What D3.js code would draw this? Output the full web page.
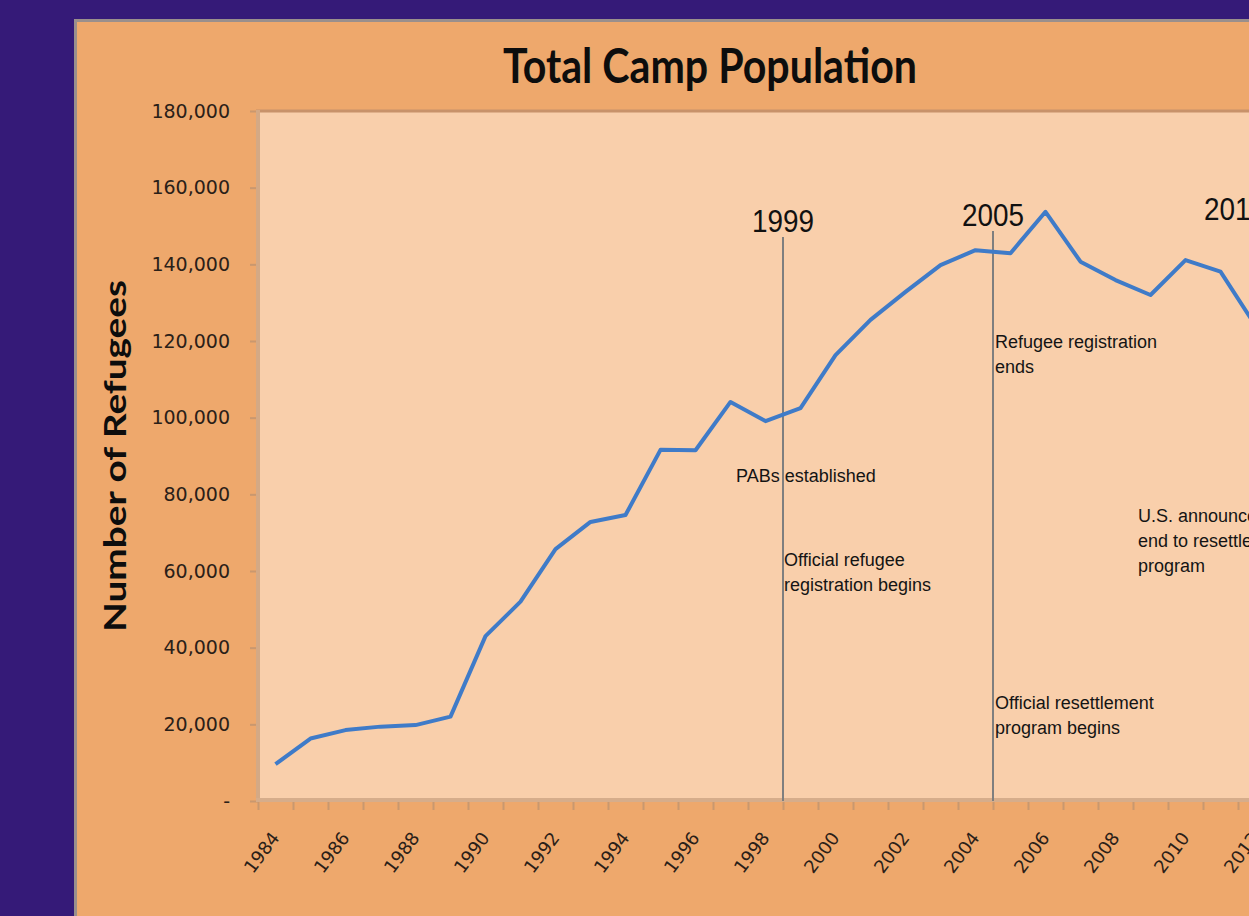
<!DOCTYPE html>
<html>
<head>
<meta charset="utf-8">
<script src="https://cdn.jsdelivr.net/npm/d3@7"></script>
<style>
html, body { margin: 0; padding: 0; background: #351a78; overflow: hidden; }
svg { display: block; }
</style>
</head>
<body>
<div id="chart"></div>
<script>
// data
var years = [1984, 1985, 1986, 1987, 1988, 1989, 1990, 1991, 1992, 1993, 1994, 1995, 1996, 1997,
    1998, 1999, 2000, 2001, 2002, 2003, 2004, 2005, 2006, 2007, 2008, 2009, 2010, 2011, 2012];
var population = [9600, 16300, 18500, 19400, 19800, 22000, 43000, 52000, 65700, 72800, 74600, 91600,
    91500, 104100, 99100, 102500, 116300, 125500, 132800, 139800, 143700, 142900, 153700, 140700,
    135900, 132000, 141100, 138100, 124000];
var yTicks = [0, 20000, 40000, 60000, 80000, 100000, 120000, 140000, 160000, 180000];
var xLabelYears = [1984, 1986, 1988, 1990, 1992, 1994, 1996, 1998, 2000, 2002, 2004, 2006, 2008, 2010, 2012];
var markerYears = [1999, 2005, 2013];
var markerLabels = ['1999', '2005', '2013'];
var noteTexts = [
    ['PABs established'],
    ['Official refugee', 'registration begins'],
    ['Refugee registration', 'ends'],
    ['Official resettlement', 'program begins'],
    ['U.S. announces', 'end to resettlement', 'program']
];

var W = 1249, H = 916;
var plot = { left: 258, top: 111, bottom: 801, step: 35 };

var svg = d3.select('#chart').append('svg').attr('width', W).attr('height', H);

// panel
svg.append('rect').attr('x', 75.5).attr('y', 20.5).attr('width', W).attr('height', H)
    .attr('fill', '#eea86c').attr('stroke', '#9a8f8c').attr('stroke-width', 3);

var xEdge = d3.scaleLinear().domain([1984, 2014])
    .range([plot.left, plot.left + 30 * plot.step]);
var y = d3.scaleLinear().domain([0, 180000]).range([plot.bottom, plot.top]);

// plot area
svg.append('rect').attr('x', plot.left).attr('y', plot.top)
    .attr('width', W).attr('height', plot.bottom - plot.top)
    .attr('fill', '#f9cfab');
svg.append('line').attr('x1', plot.left - 2).attr('x2', W).attr('y1', plot.top).attr('y2', plot.top)
    .attr('stroke', '#c8926a').attr('stroke-width', 3);

// title
svg.append('text').attr('x', 710).attr('y', 83)
    .attr('text-anchor', 'middle')
    .attr('textLength', 414).attr('lengthAdjust', 'spacingAndGlyphs')
    .style('font-family', 'Lato, "Open Sans", sans-serif').style('font-weight', 'bold')
    .style('font-size', '47px').attr('fill', '#0d0d0d')
    .text('Total Camp Population');

// y axis title
svg.append('text').attr('transform', 'translate(126,456) rotate(-90)')
    .attr('text-anchor', 'middle')
    .attr('textLength', 352).attr('lengthAdjust', 'spacingAndGlyphs')
    .style('font-family', 'Lato, "Open Sans", sans-serif').style('font-weight', 'bold')
    .style('font-size', '30px').attr('fill', '#0d0d0d')
    .text('Number of Refugees');

// y axis
var yAxis = d3.axisLeft(y).tickValues(yTicks).tickSize(8).tickPadding(20)
    .tickFormat(function(d) { return d === 0 ? '-' : d3.format(',')(d); });
var gy = svg.append('g').attr('transform', 'translate(' + plot.left + ',0)').call(yAxis);
gy.select('.domain').remove();
gy.selectAll('.tick line').attr('stroke', '#c9986f').attr('stroke-width', 2);
gy.selectAll('.tick text').style('font-family', '"DejaVu Sans", sans-serif')
    .style('font-size', '19px').attr('fill', '#2a2018');
svg.append('line').attr('x1', plot.left).attr('x2', plot.left)
    .attr('y1', plot.top - 1).attr('y2', plot.bottom + 1)
    .attr('stroke', '#d4a985').attr('stroke-width', 4);

// x axis
var xAxis = d3.axisBottom(xEdge).tickValues(d3.range(1984, 2015)).tickSize(9).tickFormat('');
var gx = svg.append('g').attr('transform', 'translate(0,' + plot.bottom + ')').call(xAxis);
gx.select('.domain').remove();
gx.selectAll('.tick line').attr('stroke', '#c9986f').attr('stroke-width', 2);
svg.append('line').attr('x1', plot.left - 2).attr('x2', W)
    .attr('y1', plot.bottom - 1).attr('y2', plot.bottom - 1)
    .attr('stroke', '#d6ad8b').attr('stroke-width', 4);

svg.append('g').selectAll('text').data(xLabelYears).enter().append('text')
    .attr('transform', function(d) {
        return 'translate(' + (xEdge(d + 0.5) + 5) + ',838) rotate(-53)';
    })
    .attr('text-anchor', 'end')
    .style('font-family', '"DejaVu Sans", sans-serif').style('font-size', '18px')
    .attr('fill', '#2a2018')
    .text(function(d) { return d; });

// markers
var labelBase = [232, 226, 220];
var markers = svg.append('g');
markerYears.forEach(function(yr, i) {
    var mx = xEdge(yr);
    markers.append('line').attr('x1', mx).attr('x2', mx)
        .attr('y1', labelBase[i] + 5).attr('y2', plot.bottom)
        .attr('stroke', '#7f7f7f').attr('stroke-width', 2);
    markers.append('text')
        .attr('x', i < 2 ? mx : mx - 69).attr('y', labelBase[i])
        .attr('text-anchor', i < 2 ? 'middle' : 'start')
        .attr('textLength', 62).attr('lengthAdjust', 'spacingAndGlyphs')
        .style('font-family', '"Liberation Sans", Arial, sans-serif').style('font-size', '32px')
        .attr('fill', '#111')
        .text(markerLabels[i]);
});

// notes
var noteAt = [
    { x: xEdge(1999) - 47, y: 482 },
    { x: xEdge(1999) + 1, y: 566 },
    { x: xEdge(2005) + 2, y: 348 },
    { x: xEdge(2005) + 2, y: 709 },
    { x: xEdge(2013) - 135, y: 522 }
];
var notes = svg.append('g');
noteTexts.forEach(function(lines, i) {
    var t = notes.append('text').attr('x', noteAt[i].x).attr('y', noteAt[i].y)
        .style('font-family', '"Liberation Sans", Arial, sans-serif').style('font-size', '18px')
        .attr('fill', '#141414');
    lines.forEach(function(s, j) {
        t.append('tspan').attr('x', noteAt[i].x).attr('dy', j === 0 ? 0 : 25).text(s);
    });
});

// population line
var series = years.map(function(yr, i) { return { year: yr, value: population[i] }; });
var line = d3.line()
    .x(function(d) { return xEdge(d.year + 0.5); })
    .y(function(d) { return y(d.value); });
svg.append('path').datum(series).attr('d', line)
    .attr('fill', 'none').attr('stroke', '#3f7bc8').attr('stroke-width', 4)
    .attr('stroke-linejoin', 'round');
</script>
</body>
</html>
